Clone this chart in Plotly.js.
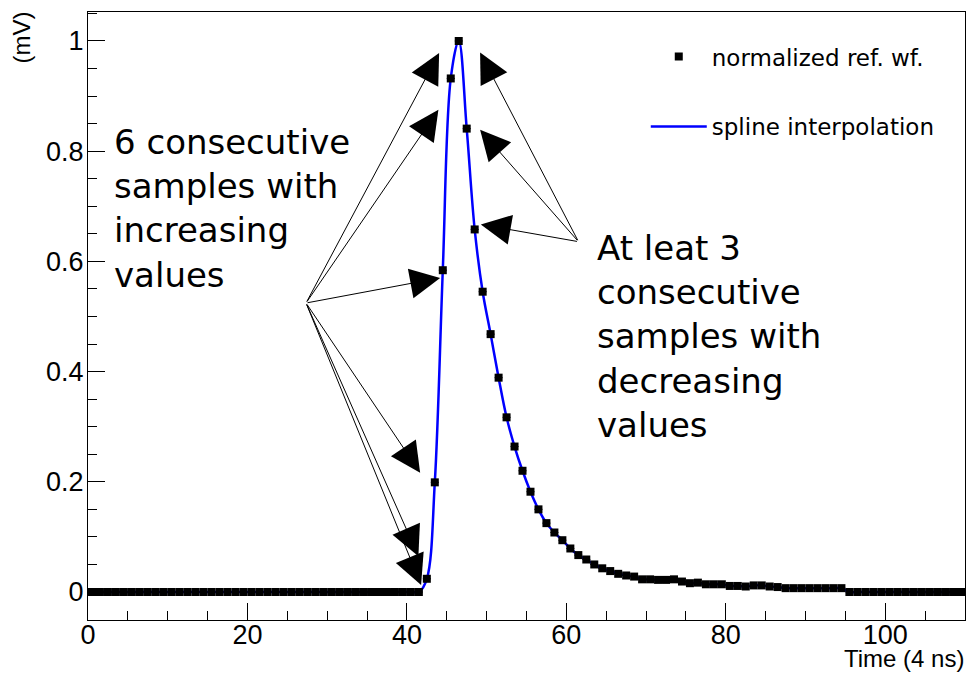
<!DOCTYPE html>
<html>
<head>
<meta charset="utf-8">
<script src="https://cdn.plot.ly/plotly-3.0.1.min.js"></script>
<style>html,body{margin:0;padding:0;background:#fff;}#chart{width:968px;height:673px;}</style>
</head>
<body>
<div id="chart"></div>
<script>
// Sample times (bin centres, units of 4 ns)
const sampleTime = [
  0.5, 1.5, 2.5, 3.5, 4.5, 5.5, 6.5, 7.5, 8.5, 9.5,
  10.5, 11.5, 12.5, 13.5, 14.5, 15.5, 16.5, 17.5, 18.5, 19.5,
  20.5, 21.5, 22.5, 23.5, 24.5, 25.5, 26.5, 27.5, 28.5, 29.5,
  30.5, 31.5, 32.5, 33.5, 34.5, 35.5, 36.5, 37.5, 38.5, 39.5,
  40.5, 41.5, 42.5, 43.5, 44.5, 45.5, 46.5, 47.5, 48.5, 49.5,
  50.5, 51.5, 52.5, 53.5, 54.5, 55.5, 56.5, 57.5, 58.5, 59.5,
  60.5, 61.5, 62.5, 63.5, 64.5, 65.5, 66.5, 67.5, 68.5, 69.5,
  70.5, 71.5, 72.5, 73.5, 74.5, 75.5, 76.5, 77.5, 78.5, 79.5,
  80.5, 81.5, 82.5, 83.5, 84.5, 85.5, 86.5, 87.5, 88.5, 89.5,
  90.5, 91.5, 92.5, 93.5, 94.5, 95.5, 96.5, 97.5, 98.5, 99.5,
  100.5, 101.5, 102.5, 103.5, 104.5, 105.5, 106.5, 107.5, 108.5, 109.5
];
// Normalized reference waveform (mV)
const sampleValue = [
  0, 0, 0, 0, 0, 0, 0, 0, 0, 0,
  0, 0, 0, 0, 0, 0, 0, 0, 0, 0,
  0, 0, 0, 0, 0, 0, 0, 0, 0, 0,
  0, 0, 0, 0, 0, 0, 0, 0, 0, 0,
  0, 0, 0.024, 0.199, 0.584, 0.932, 1.000, 0.841, 0.658, 0.545,
  0.468, 0.389, 0.317, 0.264, 0.220, 0.182, 0.150, 0.125, 0.108, 0.094,
  0.079, 0.067, 0.059, 0.050, 0.043, 0.038, 0.033, 0.030, 0.028, 0.023,
  0.023, 0.022, 0.022, 0.023, 0.019, 0.016, 0.017, 0.014, 0.014, 0.014,
  0.011, 0.011, 0.010, 0.012, 0.012, 0.010, 0.009, 0.007, 0.007, 0.007,
  0.007, 0.007, 0.007, 0.007, 0.007, 0, 0, 0, 0, 0,
  0, 0, 0, 0, 0, 0, 0, 0, 0, 0
];
const seriesNames = ['normalized ref. wf.', 'spline interpolation'];
const leftText = ['6 consecutive', 'samples with', 'increasing', 'values'];
const rightText = ['At leat 3', 'consecutive', 'samples with', 'decreasing', 'values'];
const xTitle = 'Time (4 ns)';
const yTitle = '(mV)';

// arrow tips and sources in data units
const leftArrows = [
  [44.04, 0.978], [43.95, 0.875], [44.17, 0.570],
  [41.66, 0.2165], [41.44, 0.065], [41.78, 0.0127]
];
const leftSource = [27.35, 0.5245];
const rightArrows = [[49.18, 0.979], [49.18, 0.839], [49.27, 0.667]];
const rightSource = [61.52, 0.6358];

const tickFont = {family: 'Liberation Sans, Arial, sans-serif', size: 27, color: '#000'};
const bigFont = {family: 'DejaVu Sans, sans-serif', size: 34, color: '#000'};

const traces = [
  {
    x: sampleTime, y: sampleValue, name: seriesNames[1], type: 'scatter', mode: 'lines',
    line: {color: '#0000ff', width: 2.5, shape: 'spline', smoothing: 1},
    legendgroup: 'b', legendrank: 2
  },
  {
    x: sampleTime, y: sampleValue, name: seriesNames[0], type: 'scatter', mode: 'markers',
    marker: {symbol: 'square', size: 8, color: '#000'},
    error_x: {type: 'constant', value: 0.5, width: 0, thickness: 1, color: '#000'},
    legendgroup: 'a', legendrank: 1
  }
];

const annotations = [];
function arrow(tip, src) {
  annotations.push({
    x: tip[0], y: tip[1], xref: 'x', yref: 'y',
    ax: src[0], ay: src[1], axref: 'x', ayref: 'y',
    text: '', showarrow: true, arrowhead: 2, arrowsize: 6, arrowwidth: 1,
    arrowcolor: '#000', standoff: 0, startstandoff: 0
  });
}
leftArrows.forEach(t => arrow(t, leftSource));
rightArrows.forEach(t => arrow(t, rightSource));

annotations.push({
  xref: 'paper', yref: 'paper', x: 0.0275, y: 0.677, xanchor: 'left', yanchor: 'middle',
  align: 'left', text: leftText.join('<br>'), showarrow: false, font: bigFont
});
annotations.push({
  xref: 'paper', yref: 'paper', x: 0.578, y: 0.466, xanchor: 'left', yanchor: 'middle',
  align: 'left', text: rightText.join('<br>'), showarrow: false, font: bigFont
});
annotations.push({
  xref: 'paper', yref: 'paper', x: 1.0, y: -0.0865, xanchor: 'right', yanchor: 'bottom',
  text: xTitle, showarrow: false, borderpad: 0,
  font: {family: 'Liberation Sans, Arial, sans-serif', size: 24, color: '#000'}
});
annotations.push({
  xref: 'paper', yref: 'paper', x: -0.0753, y: 0.958, xanchor: 'center', yanchor: 'middle',
  text: yTitle, textangle: -90, showarrow: false,
  font: {family: 'Liberation Sans, Arial, sans-serif', size: 24, color: '#000'}
});

const layout = {
  width: 968, height: 673,
  margin: {l: 88, r: 3, t: 12, b: 53},
  paper_bgcolor: '#fff', plot_bgcolor: '#fff',
  showlegend: true,
  legend: {
    x: 0.636, y: 0.962, xanchor: 'left', yanchor: 'top',
    bgcolor: 'rgba(0,0,0,0)', borderwidth: 0,
    font: {family: 'DejaVu Sans, sans-serif', size: 23, color: '#000'},
    traceorder: 'grouped', tracegroupgap: 37, itemwidth: 56
  },
  xaxis: {
    range: [0, 110], tick0: 0, dtick: 20, ticks: 'inside', ticklen: 17, tickwidth: 1,
    tickcolor: '#000', showline: true, linecolor: '#000', linewidth: 1, mirror: true,
    showgrid: false, zeroline: false, tickfont: tickFont, ticklabelstandoff: -9,
    minor: {dtick: 5, ticks: 'inside', ticklen: 9, tickcolor: '#000', tickwidth: 1, showgrid: false}
  },
  yaxis: {
    range: [-0.0508, 1.0526], tick0: 0, dtick: 0.2, ticks: 'inside', ticklen: 17, tickwidth: 1,
    tickcolor: '#000', showline: true, linecolor: '#000', linewidth: 1, mirror: true,
    showgrid: false, zeroline: false, tickfont: tickFont, ticklabelstandoff: -2,
    minor: {dtick: 0.05, ticks: 'inside', ticklen: 9, tickcolor: '#000', tickwidth: 1, showgrid: false}
  },
  annotations: annotations
};

Plotly.newPlot('chart', traces, layout, {displayModeBar: false, staticPlot: true});
</script>
</body>
</html>
